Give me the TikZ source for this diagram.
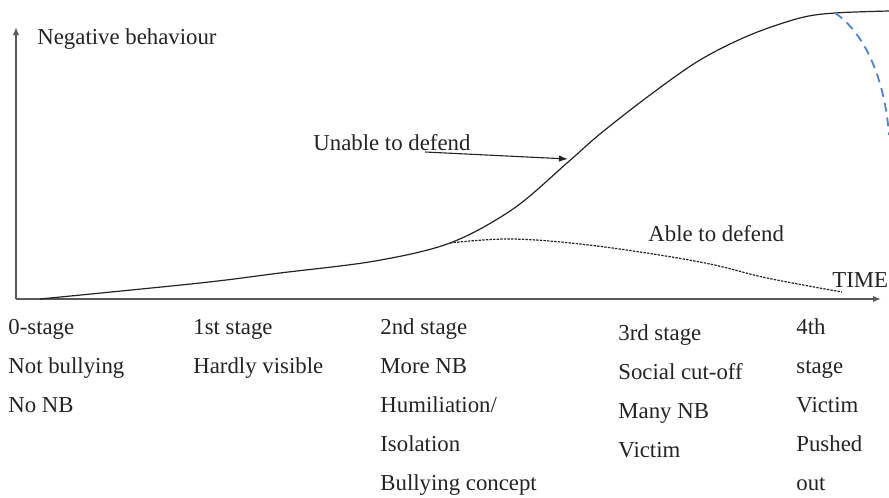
\documentclass[tikz,border=0pt]{standalone}
\usepackage{fontspec}
\newfontfamily\timesfont{LiberationSerif-Regular.ttf}
\usetikzlibrary{arrows.meta}
\definecolor{ink}{RGB}{35,35,35}
\definecolor{axis}{RGB}{90,90,90}
\definecolor{bluedash}{RGB}{80,130,205}
\begin{document}
\begin{tikzpicture}[x=0.5pt,y=-0.5pt,
  lbl/.style={anchor=base west, inner sep=0pt, text=ink, font=\timesfont\fontsize{11.4}{13}\selectfont},
  axisline/.style={draw=axis, line width=0.8pt, -{Latex[length=4pt,width=3.2pt]}},
  curveline/.style={draw=ink, line width=0.6pt},
  dotline/.style={draw=ink, line width=0.6pt, dash pattern=on 1.2pt off 0.6pt},
  bluecurve/.style={draw=bluedash, line width=0.9pt, dash pattern=on 4.5pt off 3pt},
  annot/.style={draw=ink, line width=0.55pt, -{Latex[length=4.5pt,width=3.2pt]}}]
\useasboundingbox (0,0) rectangle (889,498);
% axes
\coordinate (O) at (16,299);
\coordinate (ytop) at (16,27);
\coordinate (xend) at (881,299);
\draw[axisline] (O) -- (ytop);
\draw[axisline] (O) -- (xend);
% curves
\coordinate (start) at (40,299);
\coordinate (branch) at (450,243);
\coordinate (peak) at (835,13);
\draw[curveline] plot[smooth, tension=0.55] coordinates {(40,299) (200,283) (280,273) (375,261) (450,243) (513,209) (567,163) (600,134) (650,95) (700,60) (750,35) (800,18) (835,13) (889,11)};
\draw[dotline] plot[smooth, tension=0.6] coordinates {(450,243) (513,239) (597,246) (700,262) (767,278) (842,292)};
\draw[bluecurve] (peak) .. controls (865,33) and (885,80) .. (889,135);
% labels
\node[lbl] (yl) at (37,44) {Negative behaviour};
\node[lbl] (unable) at (313,150) {Unable to defend};
\node[lbl] (able) at (648,241) {Able to defend};
\node[lbl] (time) at (832,287) {TIME};
\coordinate (ua) at (425,152);
\coordinate (ub) at (568,159);
\draw[annot] (ua) -- (ub);
% stage columns
\node[lbl] (s0a) at (8,334) {0-stage};
\node[lbl] (s0b) at (8,373) {Not bullying};
\node[lbl] (s0c) at (8,412) {No NB};
\node[lbl] (s1a) at (193,334) {1st stage};
\node[lbl] (s1b) at (193,373) {Hardly visible};
\node[lbl] (s2a) at (380,334) {2nd stage};
\node[lbl] (s2b) at (380,373) {More NB};
\node[lbl] (s2c) at (380,412) {Humiliation/};
\node[lbl] (s2d) at (380,451) {Isolation};
\node[lbl] (s2e) at (380,490) {Bullying concept};
\node[lbl] (s3a) at (618,340) {3rd stage};
\node[lbl] (s3b) at (618,379) {Social cut-off};
\node[lbl] (s3c) at (618,418) {Many NB};
\node[lbl] (s3d) at (618,457) {Victim};
\node[lbl] (s4a) at (796,334) {4th};
\node[lbl] (s4b) at (796,373) {stage};
\node[lbl] (s4c) at (796,412) {Victim};
\node[lbl] (s4d) at (796,451) {Pushed};
\node[lbl] (s4e) at (796,490) {out};
\end{tikzpicture}
\end{document}
